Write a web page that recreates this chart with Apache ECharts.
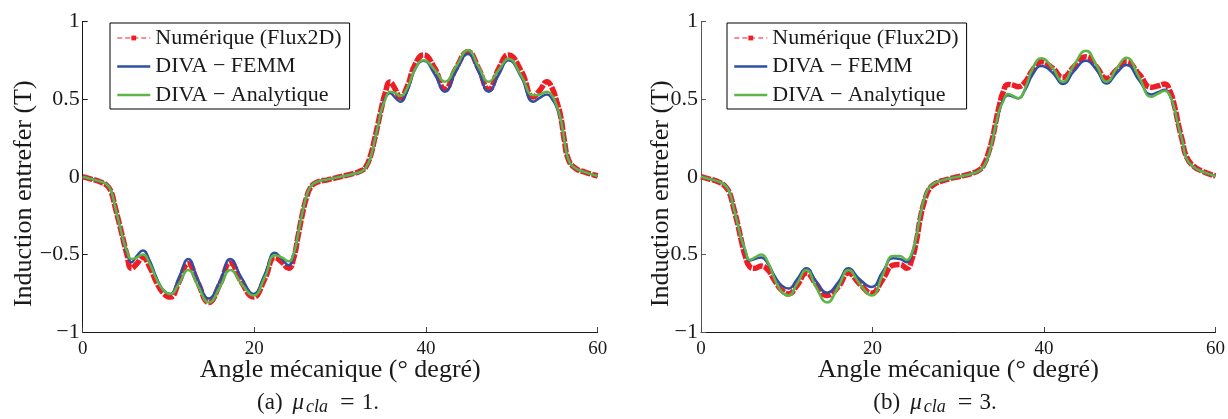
<!DOCTYPE html>
<html>
<head>
<meta charset="utf-8">
<script src="https://cdn.jsdelivr.net/npm/echarts@6/dist/echarts.min.js"></script>
<style>html,body{margin:0;padding:0;background:#fff;}#c{width:1228px;height:419px;}</style>
</head>
<body>
<div id="c"></div>
<script>
// ---- data ----
const angles = [0, 1, 2, 2.8, 3.3, 3.8, 4.3, 4.7, 5.1, 5.7, 6.3, 7.0, 7.8, 8.6, 9.4, 10.2, 11.2, 12.3, 13.4, 14.7, 16.0, 17.2, 18.5, 19.9, 21.2, 22.4, 23.2, 24.0, 24.6, 25.1, 25.6, 26.1, 26.6, 27.3, 28.5, 30, 31.5, 32.5, 33.0, 33.5, 34.0, 34.4, 34.8, 35.2, 35.8, 36.4, 37.0, 37.8, 38.7, 39.7, 41.0, 42.2, 43.5, 44.9, 46.1, 47.3, 48.5, 49.6, 51.1, 52.5, 53.3, 54.1, 54.7, 55.2, 55.7, 56.1, 56.6, 57.4, 58.5, 60];

const seriesNames = ['Numérique (Flux2D)', 'DIVA \u2212 FEMM', 'DIVA \u2212 Analytique'];
const xTicks = [0, 20, 40, 60];
const yTicks = [-1, -0.5, 0, 0.5, 1];
const captions = ['(a)', '(b)'];
const muValues = ['1', '3'];
const xTitle = 'Angle mécanique (° degré)';
const yTitle = 'Induction entrefer (T)';

// (a) mu_cla = 1
const numA = [0, -0.015, -0.032, -0.055, -0.095, -0.2, -0.31, -0.4, -0.49, -0.59,
  -0.56, -0.52, -0.58, -0.68, -0.75, -0.775, -0.68, -0.56, -0.68, -0.81,
  -0.69, -0.555, -0.68, -0.775, -0.66, -0.52, -0.55, -0.59, -0.52, -0.38,
  -0.24, -0.13, -0.065, -0.035, -0.02, 0, 0.02, 0.04, 0.065, 0.13,
  0.24, 0.34, 0.44, 0.53, 0.61, 0.565, 0.51, 0.58, 0.72, 0.785,
  0.7, 0.563, 0.7, 0.805, 0.7, 0.563, 0.7, 0.785, 0.68, 0.514,
  0.56, 0.612, 0.57, 0.49, 0.385, 0.24, 0.11, 0.055, 0.03, 0.005];
const femmA = [0, -0.015, -0.03, -0.05, -0.09, -0.2, -0.31, -0.4, -0.48, -0.55,
  -0.51, -0.475, -0.54, -0.65, -0.73, -0.755, -0.65, -0.53, -0.66, -0.785,
  -0.67, -0.53, -0.65, -0.755, -0.63, -0.49, -0.53, -0.57, -0.5, -0.37,
  -0.23, -0.12, -0.06, -0.033, -0.018, 0, 0.018, 0.035, 0.06, 0.12,
  0.23, 0.33, 0.43, 0.5, 0.54, 0.51, 0.483, 0.55, 0.69, 0.747,
  0.66, 0.548, 0.68, 0.79, 0.68, 0.548, 0.66, 0.75, 0.64, 0.483,
  0.51, 0.53, 0.5, 0.45, 0.37, 0.24, 0.11, 0.055, 0.03, 0.005];
const anaA = [0, -0.015, -0.03, -0.05, -0.09, -0.2, -0.31, -0.4, -0.47, -0.53,
  -0.52, -0.5, -0.56, -0.66, -0.73, -0.756, -0.69, -0.6, -0.7, -0.81,
  -0.71, -0.6, -0.69, -0.765, -0.65, -0.505, -0.52, -0.545, -0.49, -0.37,
  -0.23, -0.12, -0.06, -0.033, -0.018, 0, 0.018, 0.035, 0.06, 0.12,
  0.23, 0.33, 0.43, 0.49, 0.548, 0.54, 0.52, 0.57, 0.69, 0.75,
  0.69, 0.612, 0.71, 0.816, 0.71, 0.612, 0.69, 0.76, 0.65, 0.525,
  0.53, 0.548, 0.52, 0.46, 0.37, 0.24, 0.11, 0.055, 0.03, 0.005];

// (b) mu_cla = 3
const numB = [0, -0.015, -0.032, -0.06, -0.1, -0.2, -0.31, -0.41, -0.5, -0.58,
  -0.59, -0.575, -0.6, -0.67, -0.73, -0.755, -0.7, -0.62, -0.69, -0.765,
  -0.71, -0.62, -0.69, -0.75, -0.66, -0.57, -0.565, -0.59, -0.53, -0.42,
  -0.26, -0.15, -0.08, -0.045, -0.02, 0, 0.02, 0.045, 0.08, 0.15,
  0.25, 0.36, 0.46, 0.54, 0.595, 0.59, 0.58, 0.61, 0.69, 0.74,
  0.7, 0.64, 0.71, 0.773, 0.71, 0.633, 0.69, 0.741, 0.66, 0.576,
  0.585, 0.597, 0.55, 0.46, 0.33, 0.24, 0.13, 0.07, 0.035, 0.005];
const femmB = [0, -0.015, -0.03, -0.055, -0.095, -0.2, -0.31, -0.4, -0.47, -0.54,
  -0.53, -0.52, -0.56, -0.64, -0.7, -0.72, -0.66, -0.59, -0.67, -0.747,
  -0.68, -0.59, -0.66, -0.71, -0.61, -0.525, -0.53, -0.55, -0.5, -0.39,
  -0.24, -0.13, -0.07, -0.04, -0.018, 0, 0.018, 0.04, 0.07, 0.13,
  0.24, 0.34, 0.43, 0.49, 0.525, 0.515, 0.505, 0.56, 0.66, 0.713,
  0.67, 0.597, 0.68, 0.747, 0.69, 0.6, 0.67, 0.72, 0.62, 0.53,
  0.545, 0.56, 0.52, 0.44, 0.32, 0.24, 0.12, 0.065, 0.033, 0.005];
const anaB = [0, -0.015, -0.03, -0.055, -0.095, -0.2, -0.31, -0.4, -0.46, -0.535,
  -0.52, -0.5, -0.55, -0.66, -0.74, -0.765, -0.69, -0.6, -0.71, -0.81,
  -0.71, -0.6, -0.69, -0.765, -0.63, -0.51, -0.51, -0.537, -0.49, -0.39,
  -0.24, -0.13, -0.07, -0.04, -0.018, 0, 0.018, 0.04, 0.07, 0.13,
  0.24, 0.34, 0.43, 0.48, 0.533, 0.52, 0.505, 0.57, 0.7, 0.763,
  0.7, 0.612, 0.72, 0.812, 0.72, 0.612, 0.7, 0.767, 0.64, 0.515,
  0.535, 0.554, 0.52, 0.44, 0.32, 0.24, 0.12, 0.065, 0.033, 0.005];

// ---- styles ----
const FONT = '"Liberation Serif", "DejaVu Serif", serif';
const RED = '#ee1c24', BLUE = '#2f4fa2', GREEN = '#5db547';
const TXT = '#1a1a1a';

const panels = [
  {left: 82.7, legendLeft: 110, yNameGap: 46, axisColor: '#1a1a1a', vals: [numA, femmA, anaA], capX: 323},
  {left: 701, legendLeft: 727, yNameGap: 27, axisColor: '#555', vals: [numB, femmB, anaB], capX: 940}
];

const grids = [], xAxes = [], yAxes = [], series = [], legends = [], graphics = [];
const toPairs = arr => angles.map((a, i) => [a, arr[i]]);
const fmtY = v => (v < 0 ? '\u2212' + String(Math.abs(v)) : String(v));

panels.forEach((p, k) => {
  grids.push({left: p.left, top: 21.5, width: 515, height: 310.5, containLabel: false});
  xAxes.push({
    type: 'value', gridIndex: k, min: xTicks[0], max: xTicks[xTicks.length - 1], interval: 20,
    name: xTitle, nameLocation: 'middle', nameGap: 25, nameMoveOverlap: false,
    nameTextStyle: {fontFamily: FONT, fontSize: 26, color: TXT},
    axisLine: {show: true, onZero: false, lineStyle: {color: '#1a1a1a', width: 1}},
    axisTick: {show: true, inside: true, length: 5, lineStyle: {color: '#444'}},
    axisLabel: {fontFamily: FONT, fontSize: 19, color: TXT, margin: 8, formatter: v => String(v)},
    splitLine: {show: false}
  });
  yAxes.push({
    type: 'value', gridIndex: k, min: yTicks[0], max: yTicks[yTicks.length - 1], interval: 0.5,
    name: yTitle, nameLocation: 'middle', nameRotate: 90, nameGap: p.yNameGap, nameMoveOverlap: false,
    nameTextStyle: {fontFamily: FONT, fontSize: 26, color: TXT, padding: [0, 34, 0, 0]},
    axisLine: {show: true, onZero: false, lineStyle: {color: p.axisColor, width: 1}},
    axisTick: {show: true, inside: true, length: 5, lineStyle: {color: p.axisColor}},
    axisLabel: {fontFamily: FONT, fontSize: 22, color: TXT, margin: 3, formatter: fmtY},
    splitLine: {show: false}
  });
  series.push({
    name: seriesNames[0], type: 'line', xAxisIndex: k, yAxisIndex: k, data: toPairs(p.vals[0]),
    smooth: 0.5, symbol: 'rect', showSymbol: false, animation: false, z: 2,
    lineStyle: {color: RED, width: 5.5, type: [10, 1.5]}, itemStyle: {color: RED}
  });
  series.push({
    name: seriesNames[1], type: 'line', xAxisIndex: k, yAxisIndex: k, data: toPairs(p.vals[1]),
    smooth: 0.5, symbol: 'none', animation: false, z: 3,
    lineStyle: {color: BLUE, width: 2.5}, itemStyle: {color: BLUE}
  });
  series.push({
    name: seriesNames[2], type: 'line', xAxisIndex: k, yAxisIndex: k, data: toPairs(p.vals[2]),
    smooth: 0.5, symbol: 'none', animation: false, z: 4,
    lineStyle: {color: GREEN, width: 2.5}, itemStyle: {color: GREEN}
  });
  legends.push({
    orient: 'vertical', left: p.legendLeft, top: 23,
    backgroundColor: '#fff', borderColor: '#000', borderWidth: 1,
    padding: [4, 8, 3, 6], itemGap: 6.5, itemWidth: 33, itemHeight: 6,
    textStyle: {fontFamily: FONT, fontSize: 22, color: TXT, lineHeight: 22},
    selectedMode: false,
    data: [
      {name: seriesNames[0], lineStyle: {color: '#f56b70', width: 1.5, type: [5, 3]}, itemStyle: {color: RED}},
      {name: seriesNames[1], lineStyle: {color: BLUE, width: 2.5}, itemStyle: {opacity: 0}},
      {name: seriesNames[2], lineStyle: {color: GREEN, width: 2.5}, itemStyle: {opacity: 0}}
    ]
  });
  graphics.push({
    type: 'text', x: p.capX, y: 403,
    style: {
      text: '{n|' + captions[k] + '}{i|\u03bc}{s|cla}{e|=}{n|' + muValues[k] + '.}',
      align: 'center', verticalAlign: 'middle',
      rich: {
        n: {fontFamily: FONT, fontSize: 23, fill: TXT, padding: [0, 10, 0, 0]},
        i: {fontFamily: FONT, fontSize: 23, fontStyle: 'italic', fill: TXT},
        s: {fontFamily: FONT, fontSize: 18, fontStyle: 'italic', fill: TXT, padding: [9, 8, 0, 2]},
        e: {fontFamily: FONT, fontSize: 26, fill: TXT, padding: [0, 7, 0, 4]}
      }
    }
  });
});

const chart = echarts.init(document.getElementById('c'), null, {renderer: 'canvas'});
chart.setOption({
  animation: false,
  backgroundColor: '#fff',
  grid: grids, xAxis: xAxes, yAxis: yAxes, series: series, legend: legends,
  graphic: graphics
});
</script>
</body>
</html>
